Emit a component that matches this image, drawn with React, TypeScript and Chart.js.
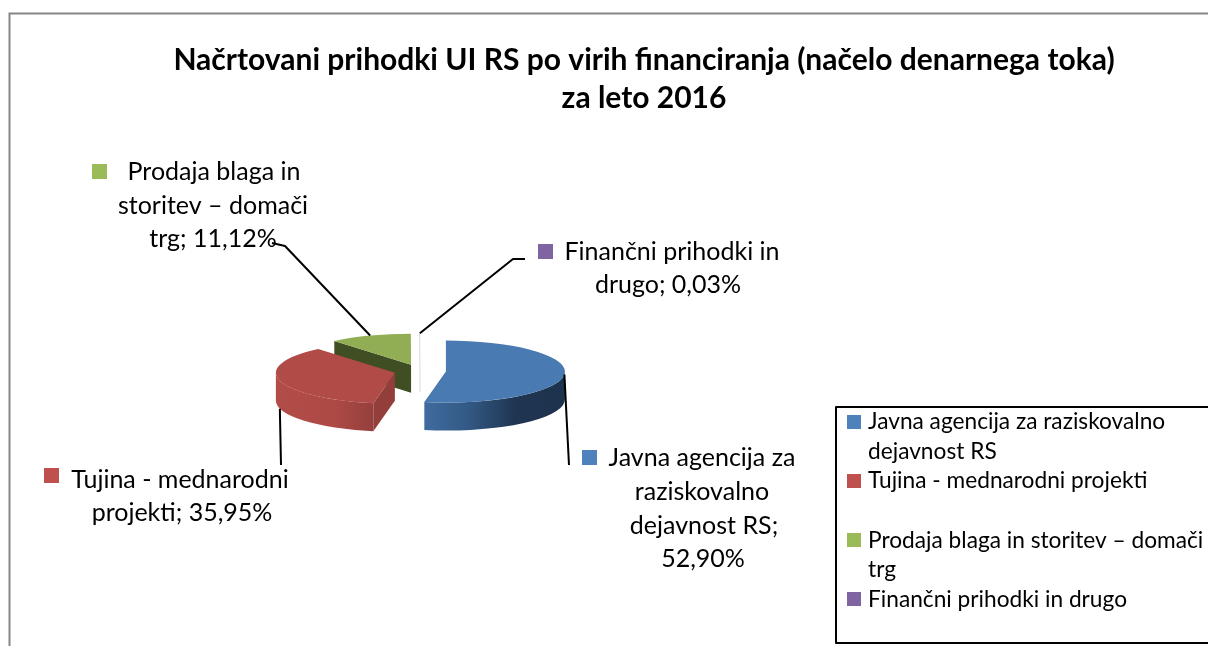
import React, { useEffect, useRef } from "react";
import { Chart, registerables } from "chart.js";

Chart.register(...registerables);

const titleLines = ["Načrtovani prihodki UI RS po virih financiranja (načelo denarnega toka)", "za leto 2016"];
const categories = ["Javna agencija za raziskovalno dejavnost RS", "Tujina - mednarodni projekti", "Prodaja blaga in storitev – domači trg", "Finančni prihodki in drugo"];
const values = [52.9, 35.95, 11.12, 0.03];
const swatchColors = ["#4F81BD", "#C0504D", "#9BBB59", "#8064A2"];
const topColors = ["#4A7AB2", "#B04B47", "#92AE54", "#D9D6E6"];

const FONT = "Lato, Carlito, sans-serif";
const LABEL_SIZE = 25;
const LEGEND_SIZE = 22.7;
const CENTER_X = 420;
const CENTER_Y = 371;
const RIM = 119;
const SQUASH = 31 / 119;
const DEPTH = 28;
const EXPLODE = 26;

const dataLabels = [
  { swatch: [582, 450], lines: [["Javna agencija za", 702, 466], ["raziskovalno", 702, 500], ["dejavnost RS;", 704, 534], ["52,90%", 703, 567]], elbow: [[569, 465]], drop: false },
  { swatch: [44, 468], lines: [["Tujina - mednarodni", 180, 488], ["projekti; 35,95%", 182, 521]], elbow: [[281, 465]], drop: true },
  { swatch: [92, 164], lines: [["Prodaja blaga in", 214, 180], ["storitev – domači", 213, 214], ["trg; 11,12%", 213, 247]], elbow: [[285, 246], [272, 243]], drop: false },
  { swatch: [538, 244], lines: [["Finančni prihodki in", 672, 260], ["drugo; 0,03%", 668, 293]], elbow: [[513, 259], [525, 259]], drop: false },
];

const legendRows = [
  { swatchY: 415, lines: [["Javna agencija za raziskovalno", 429], ["dejavnost RS", 459]] },
  { swatchY: 474, lines: [["Tujina - mednarodni projekti", 488]] },
  { swatchY: 533, lines: [["Prodaja blaga in storitev – domači", 548], ["trg", 577]] },
  { swatchY: 592, lines: [["Finančni prihodki in drugo", 607]] },
];

const rimPoint = (arc: any, angle: number) => {
  const mid = (arc.startAngle + arc.endAngle) / 2;
  const ox = CENTER_X + EXPLODE * Math.cos(mid);
  const oy = CENTER_Y + EXPLODE * Math.sin(mid) * SQUASH;
  return {
    ox,
    oy,
    x: ox + RIM * Math.cos(angle),
    y: oy + RIM * SQUASH * Math.sin(angle),
  };
};

const wallGradient = (ctx: CanvasRenderingContext2D, index: number, left: number, right: number) => {
  const g = ctx.createLinearGradient(left, 0, right, 0);
  if (index === 0) {
    g.addColorStop(0, "#3F6B9E");
    g.addColorStop(0.3, "#335A86");
    g.addColorStop(0.65, "#1F3551");
    g.addColorStop(1, "#1D324D");
  } else {
    g.addColorStop(0, "#B24C48");
    g.addColorStop(0.6, "#AD4A46");
    g.addColorStop(1, "#953F3C");
  }
  return g;
};

const pie3d = {
  id: "pie3d",
  beforeDraw(chart: any) {
    const ctx = chart.ctx as CanvasRenderingContext2D;
    ctx.save();
    ctx.strokeStyle = "#868686";
    ctx.lineWidth = 2;
    ctx.beginPath();
    ctx.moveTo(9.5, 646);
    ctx.lineTo(9.5, 13.5);
    ctx.lineTo(1208, 13.5);
    ctx.stroke();
    ctx.restore();
  },
  beforeDatasetDraw(chart: any) {
    const ctx = chart.ctx as CanvasRenderingContext2D;
    const arcs = chart.getDatasetMeta(0).data;

    // side walls, back to front
    ctx.save();
    [2, 3, 0, 1].forEach((i) => {
      const arc = arcs[i];
      const a0 = arc.startAngle;
      const a1 = arc.endAngle;
      const start = rimPoint(arc, a0);
      if (i === 3) {
        ctx.strokeStyle = "#D9D6E6";
        ctx.lineWidth = 1;
        ctx.beginPath();
        ctx.moveTo(start.x, start.y);
        ctx.lineTo(start.ox, start.oy + DEPTH);
        ctx.stroke();
        return;
      }
      if (Math.cos(a0) < -0.01) {
        ctx.fillStyle = i === 1 ? "#933E3B" : "#404E24";
        ctx.beginPath();
        ctx.moveTo(start.ox, start.oy);
        ctx.lineTo(start.x, start.y);
        ctx.lineTo(start.x, start.y + DEPTH);
        ctx.lineTo(start.ox, start.oy + DEPTH);
        ctx.closePath();
        ctx.fill();
      }
      const from = Math.max(a0, 0);
      const to = Math.min(a1, Math.PI);
      if (to > from) {
        const left = rimPoint(arc, to).x;
        const right = rimPoint(arc, from).x;
        ctx.fillStyle = wallGradient(ctx, i, Math.min(left, right), Math.max(left, right));
        ctx.beginPath();
        ctx.ellipse(start.ox, start.oy, RIM, RIM * SQUASH, 0, from, to);
        ctx.ellipse(start.ox, start.oy + DEPTH, RIM, RIM * SQUASH, 0, to, from, true);
        ctx.closePath();
        ctx.fill();
      }
    });
    ctx.restore();

    // top faces: the library's own arc elements, exploded and squashed
    arcs.forEach((arc: any) => {
      const p = rimPoint(arc, 0);
      ctx.save();
      ctx.translate(p.ox, p.oy);
      ctx.scale(1, SQUASH);
      ctx.translate(-arc.x, -arc.y);
      arc.draw(ctx);
      ctx.restore();
    });
    return false;
  },
  afterDatasetsDraw(chart: any) {
    const ctx = chart.ctx as CanvasRenderingContext2D;
    const arcs = chart.getDatasetMeta(0).data;

    ctx.save();
    ctx.strokeStyle = "#000000";
    ctx.lineWidth = 2;
    ctx.lineJoin = "round";
    dataLabels.forEach((label, i) => {
      const arc = arcs[i];
      const mid = (arc.startAngle + arc.endAngle) / 2;
      const p = rimPoint(arc, mid);
      ctx.beginPath();
      ctx.moveTo(p.x, p.y + (label.drop ? DEPTH : 0));
      label.elbow.forEach((pt) => ctx.lineTo(pt[0], pt[1]));
      ctx.stroke();
    });

    ctx.font = `${LABEL_SIZE}px ${FONT}`;
    ctx.textBaseline = "alphabetic";
    ctx.textAlign = "center";
    dataLabels.forEach((label, i) => {
      ctx.fillStyle = swatchColors[i];
      ctx.fillRect(label.swatch[0], label.swatch[1], 15, 15);
      ctx.fillStyle = "#000000";
      label.lines.forEach((ln) => ctx.fillText(ln[0] as string, ln[1] as number, ln[2] as number));
    });

    ctx.strokeStyle = "#000000";
    ctx.lineWidth = 2;
    ctx.beginPath();
    ctx.moveTo(1208, 407);
    ctx.lineTo(836, 407);
    ctx.lineTo(836, 643);
    ctx.lineTo(1208, 643);
    ctx.stroke();

    ctx.font = `${LEGEND_SIZE}px ${FONT}`;
    ctx.textAlign = "left";
    legendRows.forEach((row, i) => {
      ctx.fillStyle = swatchColors[i];
      ctx.fillRect(847, row.swatchY, 14, 14);
      ctx.fillStyle = "#000000";
      row.lines.forEach((ln) => ctx.fillText(ln[0] as string, 868, ln[1] as number));
    });
    ctx.restore();
  },
};

export default function App() {
  const ref = useRef<HTMLCanvasElement | null>(null);
  useEffect(() => {
    const chart = new Chart(ref.current as HTMLCanvasElement, {
      type: "pie",
      data: {
        labels: categories,
        datasets: [
          {
            data: values,
            backgroundColor: topColors,
            borderWidth: 0,
            clip: false,
          } as any,
        ],
      },
      options: {
        animation: false,
        responsive: false,
        radius: RIM,
        layout: { padding: { left: 80, right: 0, top: 0, bottom: 0 } },
        plugins: {
          legend: { display: false },
          tooltip: { enabled: false },
          title: {
            display: true,
            text: titleLines,
            color: "#000000",
            font: { family: FONT, size: 30, weight: "bold", lineHeight: 1.27 },
            padding: { top: 41, bottom: 10 },
          },
        },
      } as any,
      plugins: [pie3d],
    });
    return () => chart.destroy();
  }, []);
  return (
    <div style={{ position: "fixed", left: 0, top: 0, width: 1208, height: 646, background: "#fff", overflow: "hidden" }}>
      <canvas ref={ref} width={1208} height={646} style={{ display: "block" }} />
    </div>
  );
}
